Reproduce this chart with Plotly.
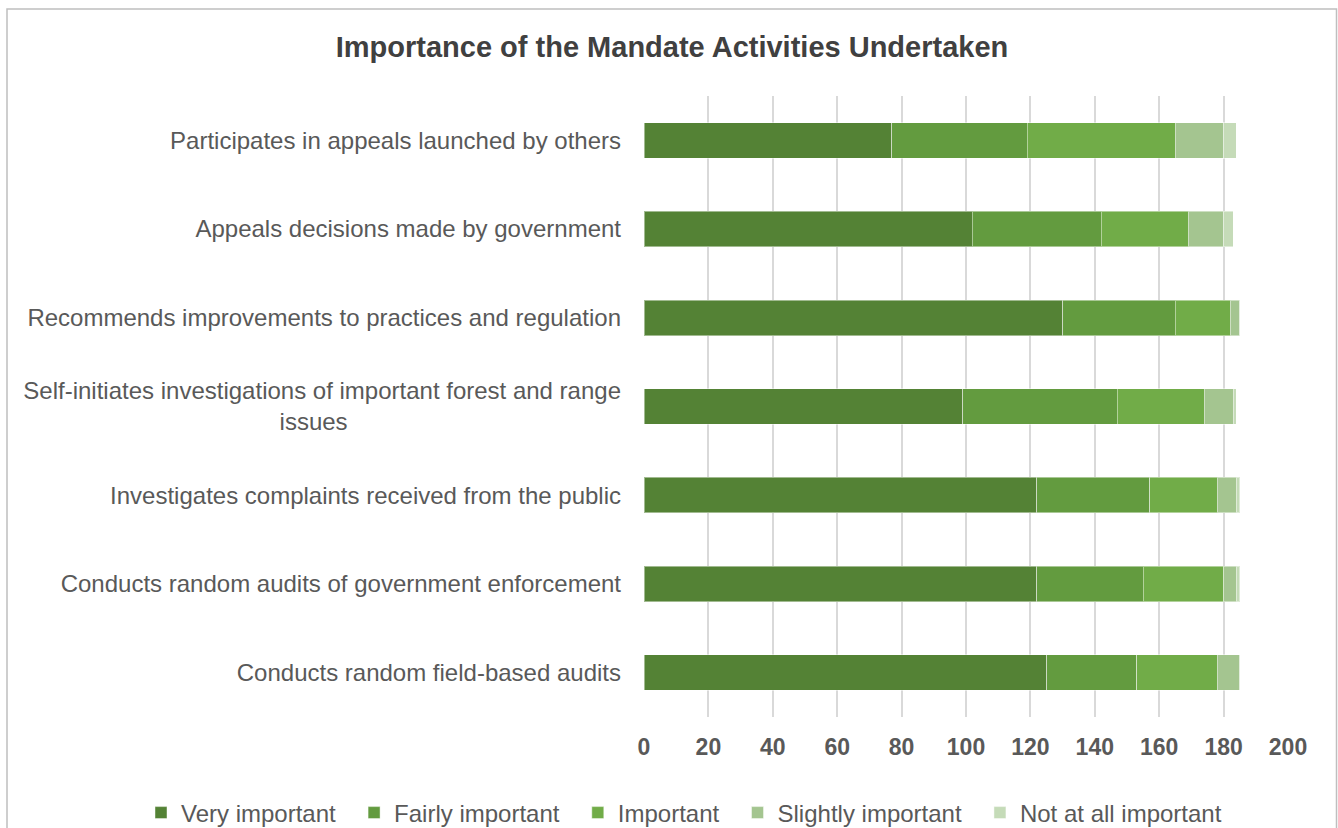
import plotly.graph_objects as go

categories = [
    "Participates in appeals launched by others",
    "Appeals decisions made by government",
    "Recommends improvements to practices and regulation",
    "Self-initiates investigations of important forest and range<br>issues" + "\u00a0" * 41,
    "Investigates complaints received from the public",
    "Conducts random audits of government enforcement",
    "Conducts random field-based audits",
]

very_important = [77, 102, 130, 99, 122, 122, 125]
fairly_important = [42, 40, 35, 48, 35, 33, 28]
important = [46, 27, 17, 27, 21, 25, 25]
slightly_important = [15, 11, 3, 9, 6, 4, 7]
not_at_all_important = [4, 3, 0, 1, 1, 1, 0]

series_names = ["Very important", "Fairly important", "Important",
                "Slightly important", "Not at all important"]
series_values = [very_important, fairly_important, important,
                 slightly_important, not_at_all_important]
colors = ["#548235", "#639B3F", "#71AC48", "#A4C590", "#C5DBB8"]

x_ticks = [0, 20, 40, 60, 80, 100, 120, 140, 160, 180, 200]

FONT = "Liberation Sans, Arial, sans-serif"

W, H = 1338, 828
L, R, T, B = 644, 50, 96, 111
PW, PH = W - L - R, H - T - B

fig = go.Figure()
for name, vals, col in zip(series_names, series_values, colors):
    fig.add_trace(go.Bar(
        y=categories, x=vals, name=name + "\u00a0\u00a0", orientation="h",
        marker=dict(color=col, line=dict(color="rgba(255,255,255,0.45)", width=1)),
    ))

fig.update_layout(
    width=W, height=H,
    barmode="stack", bargap=0.6,
    paper_bgcolor="white", plot_bgcolor="white",
    margin=dict(l=L, r=R, t=T, b=B, autoexpand=False),
    font=dict(family=FONT, color="#595959"),
    title=dict(text="Importance of the Mandate Activities Undertaken",
               x=672 / W, xanchor="center", y=1 - 47 / H, yanchor="middle",
               font=dict(size=29, color="#404040", family=FONT, weight="bold")),
    legend=dict(orientation="h", xref="paper", x=(141 - L) / PW, xanchor="left",
                yref="paper", y=-(813 - (H - B)) / PH, yanchor="middle",
                font=dict(size=24, color="#595959", family=FONT),
                traceorder="normal", itemwidth=30),
    showlegend=True,
)
fig.update_xaxes(range=[0, 200], tickvals=x_ticks, showgrid=True,
                 gridcolor="#D9D9D9", gridwidth=1.5, zeroline=False,
                 showline=False, ticks="",
                 tickfont=dict(size=23, color="#595959", family=FONT, weight="bold"),
                 ticklabelstandoff=14)
fig.update_yaxes(autorange="reversed", showgrid=False, zeroline=False,
                 showline=False, ticks="",
                 tickfont=dict(size=24, color="#595959", family=FONT),
                 ticklabelstandoff=22)

fig.add_shape(type="rect", xref="paper", yref="paper",
              x0=(7 - L) / PW, x1=(1336.5 - L) / PW,
              y0=-(H + 20 - (H - B)) / PH, y1=((H - B) - 9) / PH,
              line=dict(color="#BFBFBF", width=1.5), fillcolor="rgba(0,0,0,0)",
              layer="below")

fig.write_html(
    "out.html",
    config={"displayModeBar": False},
    post_script="document.body.style.margin='0px';document.body.style.overflow='hidden';",
)
